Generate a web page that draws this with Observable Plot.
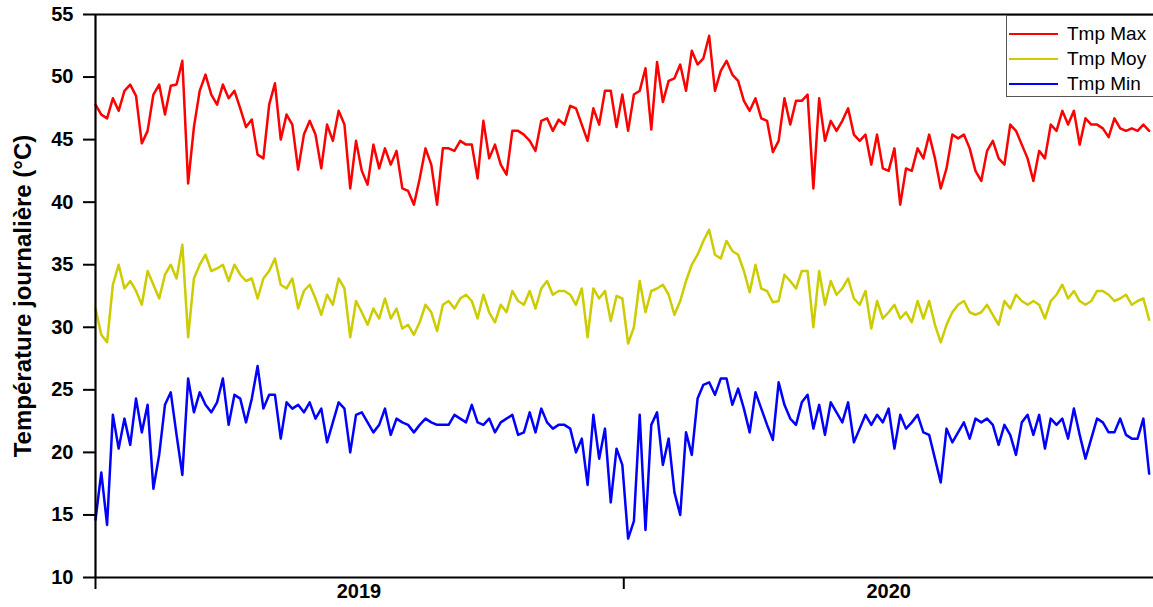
<!DOCTYPE html>
<html>
<head>
<meta charset="utf-8">
<script src="https://cdn.jsdelivr.net/npm/d3@7"></script>
<script src="https://cdn.jsdelivr.net/npm/@observablehq/plot@0.6"></script>
<style>
  html, body { margin: 0; padding: 0; background: #fff; overflow: hidden; }
  #wrap { position: relative; width: 1153px; height: 607px; overflow: hidden; }
  #legend { position: absolute; left: 1006px; top: 15px; width: 175px; height: 82px;
    border: 1px solid #555; background: #fff; box-sizing: border-box; padding-top: 5px;
    font-family: "Liberation Sans", Arial, sans-serif; font-size: 19px; color: #000; }
  .row { display: flex; align-items: center; height: 25px; }
  .row svg { margin-left: 2px; margin-right: 9px; }
</style>
</head>
<body>
<div id="wrap">
  <div id="chart"></div>
  <div id="legend"></div>
</div>
<script>
// ---- data: daily temperatures sampled every 4 days from 2019-01-01 ----
const startDate = new Date(Date.UTC(2019, 0, 1));
const stepDays = 4;

const tmpMax = [
 47.8,47.0,46.7,48.3,47.3,48.9,49.4,48.5,44.7,45.7,
 48.6,49.4,47.0,49.3,49.4,51.3,41.5,46.0,48.9,50.2,
 48.6,47.8,49.4,48.3,48.9,47.5,46.0,46.6,43.8,43.5,
 47.8,49.5,45.0,47.0,46.2,42.6,45.4,46.5,45.4,42.7,
 46.2,44.9,47.3,46.2,41.1,44.9,42.5,41.4,44.6,42.7,
 44.3,43.0,44.1,41.1,40.9,39.8,41.9,44.3,43.0,39.8,
 44.3,44.3,44.1,44.9,44.6,44.6,41.9,46.5,43.5,44.6,
 43.0,42.2,45.7,45.7,45.4,44.9,44.1,46.5,46.7,45.7,
 46.6,46.2,47.7,47.5,46.2,44.9,47.5,46.2,48.9,48.9,
 46.0,48.6,45.7,48.6,48.9,50.7,45.8,51.2,48.0,49.7,
 49.9,51.0,48.9,52.1,51.0,51.5,53.3,48.9,50.5,51.3,
 50.2,49.7,48.1,47.3,48.3,46.7,46.5,44.0,44.9,48.3,
 46.2,48.1,48.1,48.6,41.1,48.3,44.9,46.5,45.7,46.5,
 47.5,45.4,44.9,45.4,43.0,45.4,42.7,42.5,44.3,39.8,
 42.7,42.5,44.3,43.5,45.4,43.5,41.1,42.7,45.4,45.1,
 45.4,44.3,42.5,41.7,44.1,44.9,43.5,43.0,46.2,45.7,
 44.6,43.5,41.7,44.1,43.5,46.2,45.7,47.3,46.2,47.3,
 44.6,46.7,46.2,46.2,45.9,45.2,46.7,45.9,45.7,45.9,
 45.7,46.2,45.7
];

const tmpMoy = [
 31.5,29.4,28.8,33.4,35.0,33.1,33.7,32.9,31.8,34.5,
 33.4,32.3,34.2,35.0,33.9,36.6,29.2,33.9,35.0,35.8,
 34.5,34.7,35.0,33.7,35.0,34.2,33.7,33.9,32.3,33.9,
 34.5,35.5,33.4,33.1,33.9,31.5,32.9,33.4,32.3,31.0,
 32.6,31.8,33.9,33.1,29.2,32.1,31.2,30.2,31.5,30.7,
 32.3,30.7,31.5,29.9,30.2,29.4,30.4,31.8,31.2,29.7,
 31.8,32.1,31.5,32.3,32.6,32.1,30.7,32.6,31.2,30.4,
 31.8,31.2,32.9,32.1,31.8,32.9,31.5,33.1,33.7,32.6,
 32.9,32.9,32.6,31.8,33.1,29.2,33.1,32.3,32.9,30.5,
 32.5,32.3,28.7,30.0,33.7,31.2,32.9,33.1,33.4,32.6,
 31.0,32.1,33.7,35.0,35.8,36.9,37.8,35.8,35.5,36.9,
 36.1,35.8,34.5,32.8,35.0,33.1,32.9,32.0,32.1,34.2,
 33.7,33.1,34.5,34.5,30.0,34.5,31.8,33.7,32.6,33.1,
 33.9,32.3,31.8,32.9,29.9,32.1,30.7,31.2,31.8,30.7,
 31.2,30.4,32.1,30.7,32.1,30.2,28.8,30.2,31.2,31.8,
 32.1,31.2,31.0,31.2,31.8,31.0,30.2,32.1,31.5,32.6,
 32.1,31.8,32.1,31.8,30.7,32.1,32.6,33.4,32.3,32.9,
 32.1,31.8,32.1,32.9,32.9,32.6,32.1,32.3,32.6,31.8,
 32.1,32.3,30.6
];

const tmpMin = [
 14.6,18.4,14.2,23.0,20.3,22.7,20.6,24.3,21.6,23.8,
 17.1,19.8,23.8,24.8,21.4,18.2,25.9,23.2,24.8,23.8,
 23.2,24.0,25.9,22.2,24.6,24.3,22.4,24.3,26.9,23.5,
 24.6,24.6,21.1,24.0,23.5,23.8,23.2,24.0,22.7,23.5,
 20.8,22.4,24.0,23.5,20.0,23.0,23.2,22.4,21.6,22.2,
 23.5,21.4,22.7,22.4,22.2,21.6,22.2,22.7,22.4,22.2,
 22.2,22.2,23.0,22.7,22.4,23.8,22.4,22.2,22.7,21.6,
 22.4,22.7,23.0,21.4,21.6,23.2,21.6,23.5,22.4,21.9,
 22.2,22.2,21.9,20.0,21.1,17.4,23.0,19.5,21.9,16.0,
 20.3,19.0,13.1,14.5,23.0,13.8,22.2,23.2,19.0,21.1,
 16.8,15.0,21.6,19.8,24.3,25.4,25.6,24.6,25.9,25.9,
 23.8,25.1,23.5,21.6,24.8,23.5,22.2,21.0,25.6,23.8,
 22.7,22.2,24.0,24.6,21.9,23.8,21.4,24.0,23.2,22.4,
 24.0,20.8,21.9,23.0,22.2,23.0,22.4,23.5,20.3,23.0,
 21.9,22.4,23.0,21.6,21.4,19.5,17.6,21.9,20.8,21.6,
 22.4,21.1,22.7,22.4,22.7,22.2,20.6,22.2,21.4,19.8,
 22.4,23.0,21.4,23.0,20.3,22.7,22.2,22.7,21.1,23.5,
 21.4,19.5,21.1,22.7,22.4,21.6,21.6,22.7,21.4,21.1,
 21.1,22.7,18.3
];

const seriesNames = ["Tmp Max", "Tmp Moy", "Tmp Min"];
const seriesColors = ["#ff0000", "#cccc00", "#0000ff"];
const yearLabels = ["2019", "2020"];
const yearStarts = [new Date(Date.UTC(2019,0,1)), new Date(Date.UTC(2020,0,1)), new Date(Date.UTC(2021,0,1))];
const yearMiddles = [new Date(Date.UTC(2019,6,2)), new Date(Date.UTC(2020,6,2))];
const yTicks = [10, 15, 20, 25, 30, 35, 40, 45, 50, 55];
const yTitle = "Température journalière (°C)";

// ---- build table ----
const dayMs = 86400000;
const rows = [];
[tmpMax, tmpMoy, tmpMin].forEach((arr, k) => {
  arr.forEach((v, i) => rows.push({date: new Date(startDate.getTime() + i * stepDays * dayMs), value: v, series: seriesNames[k]}));
});

const chart = Plot.plot({
  width: 1153,
  height: 607,
  marginLeft: 95,
  marginRight: 0,
  marginTop: 14,
  marginBottom: 30,
  style: {fontFamily: "'Liberation Sans', Arial, sans-serif", fontSize: "20px", fontWeight: "bold", color: "#000", background: "#fff"},
  x: {type: "utc", domain: [yearStarts[0], yearStarts[2]]},
  y: {domain: [10, 55]},
  color: {domain: seriesNames, range: seriesColors},
  marks: [
    Plot.line(rows, {x: "date", y: "value", z: "series", stroke: "series", strokeWidth: 2.5, strokeLinejoin: "round"}),
    Plot.ruleY([55], {stroke: "#000", strokeWidth: 2.2}),
    Plot.ruleY([10], {stroke: "#000", strokeWidth: 2.2}),
    Plot.ruleX([yearStarts[0]], {stroke: "#000", strokeWidth: 2.2}),
    Plot.axisY({ticks: yTicks, tickSize: 12, tickPadding: 10, strokeWidth: 2, label: null, fontSize: 20, fontWeight: "bold"}),
    Plot.axisX({ticks: yearStarts.slice(0, 2), tickSize: 12, tickFormat: () => "", strokeWidth: 2, label: null}),
    Plot.text(yearLabels, {x: (d, i) => yearMiddles[i], frameAnchor: "bottom", dy: 20, fontSize: 20, fontWeight: "bold", fill: "#000"}),
    Plot.text([yTitle], {frameAnchor: "left", textAnchor: "middle", dx: -72, rotate: -90, fontSize: 24, fontWeight: "bold", fill: "#000"})
  ]
});
document.getElementById("chart").appendChild(chart);

// ---- legend ----
const legend = document.getElementById("legend");
seriesNames.forEach((name, i) => {
  const row = document.createElement("div");
  row.className = "row";
  row.innerHTML = `<svg width="49" height="4"><line x1="0" y1="2" x2="49" y2="2" stroke="${seriesColors[i]}" stroke-width="2"/></svg><span>${name}</span>`;
  legend.appendChild(row);
});
</script>
</body>
</html>
